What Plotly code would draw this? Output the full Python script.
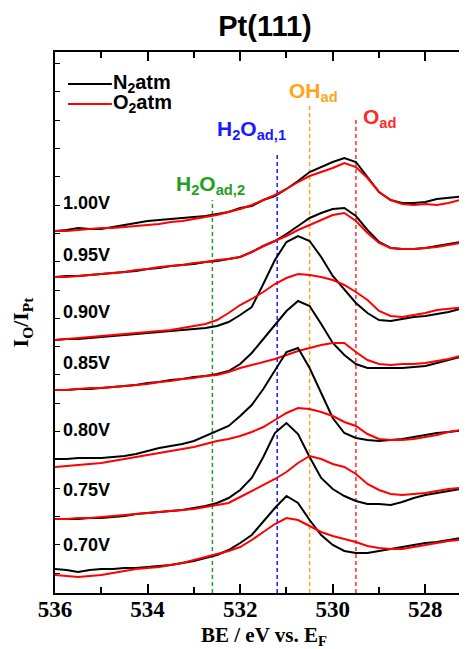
import plotly.graph_objects as go

# Binding energy grid (eV)
be = [536.0, 535.75, 535.5, 535.25, 535.0, 534.75, 534.5, 534.25, 534.0, 533.75,
      533.5, 533.25, 533.0, 532.75, 532.5, 532.25, 532.0, 531.75, 531.5, 531.25,
      531.0, 530.75, 530.5, 530.25, 530.0, 529.75, 529.5, 529.25, 529.0, 528.75,
      528.5, 528.25, 528.0, 527.75, 527.5, 527.25, 527.1]

voltages = ["1.00V", "0.95V", "0.90V", "0.85V", "0.80V", "0.75V", "0.70V"]
label_level = [390, 338, 281, 230, 163, 103, 48]

# I_O / I_Pt (arb. units, stacked) under N2
n2_100 = [362,363,365,364,364,366,368,370,372,373,374,375,376,377,379,381,385,387,393,397,404,412,421,426,431,435,431,416,401,393,390,390,391,394,395,396,397]
n2_095 = [316,317,317,318,319,320,321,322,324,325,327,328,329,331,332,334,336,341,347,352,359,367,375,380,384,385,377,363,351,345,344,344,345,347,349,351,352]
n2_090 = [253,254,254,255,256,257,258,259,260,261,262,263,264,265,267,271,278,286,309,333,351,357,352,336,317,304,290,280,273,272,274,276,277,279,281,284,285]
n2_085 = [203,203,204,204,205,206,207,208,210,211,213,214,216,217,219,222,229,240,254,268,282,292,287,269,250,238,229,225,225,225,225,226,227,230,233,236,237]
n2_080 = [134,134,135,135,135,136,137,139,142,145,147,149,152,157,162,167,177,188,204,223,241,245,225,200,175,160,155,153,152,153,154,156,158,160,161,162,163]
n2_075 = [74,74,74,75,75,76,77,79,80,81,82,83,85,87,90,95,103,115,136,160,170,159,136,115,104,97,92,89,89,88,91,95,98,100,102,104,106]
n2_070 = [24,23,21,23,24,24,25,25,26,27,28,30,32,35,38,43,50,58,72,85,97,90,73,58,48,42,40,40,42,44,46,48,50,51,53,55,55]

# I_O / I_Pt (arb. units, stacked) under O2
o2_100 = [362,362,363,364,365,365,366,367,368,369,371,372,374,376,378,381,384,388,393,398,404,411,417,421,425,430,426,415,401,393,389,388,389,388,390,393,394]
o2_095 = [316,316,317,318,319,320,321,323,324,326,327,328,330,331,333,334,336,341,347,352,357,363,368,373,378,380,372,360,350,345,344,344,345,346,348,350,351]
o2_090 = [253,254,255,256,257,258,259,260,261,262,263,265,267,269,273,280,288,294,301,309,315,319,318,316,313,308,301,293,282,277,276,278,280,283,284,285,286]
o2_085 = [203,203,204,205,205,206,207,208,209,211,212,214,215,217,218,221,225,228,231,234,238,242,245,248,250,250,241,233,229,228,229,229,230,232,234,237,238]
o2_080 = [126,127,128,129,130,132,134,136,138,140,142,144,146,149,152,154,157,161,166,173,180,185,184,181,177,171,167,159,154,153,153,154,156,158,161,163,164]
o2_075 = [74,74,75,75,76,77,78,79,80,81,82,83,84,86,88,90,96,102,108,114,121,130,137,134,129,126,119,109,103,99,98,99,100,102,104,105,107]
o2_070 = [18,17,16,17,18,20,22,24,25,26,28,30,33,36,39,42,46,53,61,69,75,73,67,61,57,54,51,47,45,44,44,46,48,50,52,53,53]

n2_curves = [n2_100, n2_095, n2_090, n2_085, n2_080, n2_075, n2_070]
o2_curves = [o2_100, o2_095, o2_090, o2_085, o2_080, o2_075, o2_070]

# Reference peak positions
peak_names = ["H<sub>2</sub>O<sub>ad,2</sub>", "H<sub>2</sub>O<sub>ad,1</sub>", "OH<sub>ad</sub>", "O<sub>ad</sub>"]
peak_be = [532.6, 531.2, 530.5, 529.5]
peak_top = [393, 440, 488, 473]
peak_colors = ["#22a022", "#1a1aff", "#ffa519", "#ff2a2a"]
peak_label_be = [533.42, 532.55, 530.98, 529.38]
peak_label_level = [408, 463, 501, 475]

legend_names = ["N<sub>2</sub>atm", "O<sub>2</sub>atm"]
legend_colors = ["black", "red"]

fig = go.Figure()

for b, t, c in zip(peak_be, peak_top, peak_colors):
    fig.add_trace(go.Scatter(x=[b, b], y=[0, t], mode="lines", showlegend=False,
                             line=dict(color=c, width=1.5, dash="4px,3px"), hoverinfo="skip"))

for i in range(len(voltages)):
    fig.add_trace(go.Scatter(x=be, y=n2_curves[i], mode="lines", name=legend_names[0],
                             legendgroup="n2", showlegend=False,
                             line=dict(color=legend_colors[0], width=2)))
    fig.add_trace(go.Scatter(x=be, y=o2_curves[i], mode="lines", name=legend_names[1],
                             legendgroup="o2", showlegend=False,
                             line=dict(color=legend_colors[1], width=2)))

annotations = []
shapes = []
for v, lvl in zip(voltages, label_level):
    annotations.append(dict(x=535.86, y=lvl, xref="x", yref="y", text=v, showarrow=False,
                            xanchor="left", yanchor="middle",
                            font=dict(family="Liberation Sans", size=18, color="black", weight="bold")))
for name, bx, lvl, c in zip(peak_names, peak_label_be, peak_label_level, peak_colors):
    annotations.append(dict(x=bx, y=lvl, xref="x", yref="y", text=name, showarrow=False,
                            xanchor="left", yanchor="middle",
                            font=dict(family="Liberation Sans", size=21, color=c, weight="bold")))

# legend (drawn manually for tight spacing)
leg_y = [0.941, 0.904]
for name, c, ly in zip(legend_names, legend_colors, leg_y):
    shapes.append(dict(type="line", xref="paper", yref="paper", x0=0.0316, x1=0.138, y0=ly, y1=ly,
                       line=dict(color=c, width=2)))
    annotations.append(dict(x=0.136, y=ly, xref="paper", yref="paper", text=name, showarrow=False,
                            xanchor="left", yanchor="middle",
                            font=dict(family="Liberation Sans", size=20, color="black", weight="bold")))

# x-axis title
annotations.append(dict(x=0.508, y=-0.079, xref="paper", yref="paper", text="BE / eV vs. E<sub>F</sub>",
                        showarrow=False, xanchor="center", yanchor="middle",
                        font=dict(family="Liberation Serif", size=21, color="black", weight="bold")))

fig.update_layout(
    width=459, height=641,
    margin=dict(l=47, r=0, t=44, b=56),
    plot_bgcolor="white", paper_bgcolor="white",
    title=dict(text="Pt(111)", x=0.56, xanchor="center", y=1 - 18 / 641, yanchor="middle",
               font=dict(family="Liberation Sans", size=29, color="black", weight="bold")),
    annotations=annotations,
    shapes=shapes,
    showlegend=False,
)

fig.update_xaxes(
    range=[536, 527.1], autorange=False,
    showline=True, linecolor="black", linewidth=2, mirror="ticks",
    ticks="inside", ticklen=9, tickwidth=2, tickcolor="black",
    tickvals=[536, 534, 532, 530, 528],
    minor=dict(tickvals=[535, 533, 531, 529, 527], ticks="inside", ticklen=6, tickwidth=2, tickcolor="black"),
    showgrid=False, zeroline=False,
    tickfont=dict(family="Liberation Serif", size=23, color="black", weight="bold"),
    ticklabelstandoff=-6,
    automargin=False,
)
fig.update_yaxes(
    range=[0, 541], autorange=False,
    showline=True, linecolor="black", linewidth=2, mirror=False,
    ticks="inside", ticklen=5, tickwidth=1, tickcolor="black",
    tick0=20, dtick=28.3, showticklabels=False,
    showgrid=False, zeroline=False,
    title=dict(text="I<sub>O</sub>/I<sub>Pt</sub>", standoff=22,
               font=dict(family="Liberation Serif", size=22, color="black", weight="bold")),
    automargin=False,
)

fig.write_html("out.html")
